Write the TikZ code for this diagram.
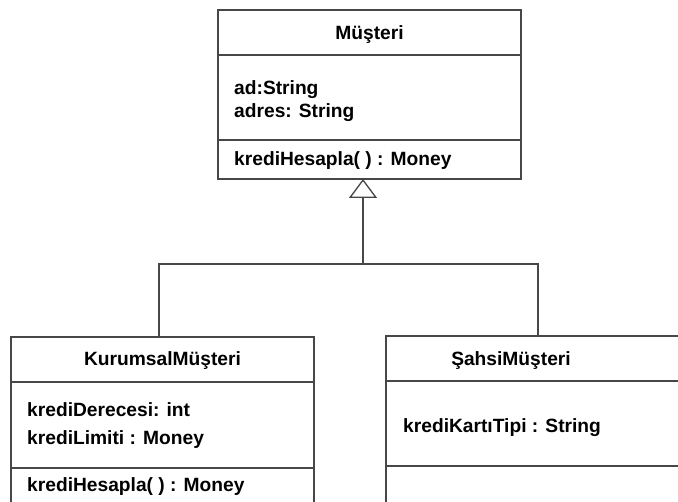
\documentclass[tikz,border=0pt]{standalone}
\usepackage{fontspec}
\setmainfont{Liberation Sans}
\usetikzlibrary{arrows.meta}
\definecolor{linegray}{HTML}{474747}
\begin{document}
\begin{tikzpicture}[x=1pt,y=-1pt,
  umlline/.style={draw=linegray,line width=1.3pt},
  classbox/.style={umlline,rectangle,anchor=north west,inner sep=0,outer sep=0},
  lbl/.style={font=\fontsize{19.2}{22}\selectfont\bfseries,inner sep=0,text=black},
  title/.style={lbl,anchor=base},
  attr/.style={lbl,anchor=base west},
]
\useasboundingbox (0,0) rectangle (678,502);
\fill[white] (0,0) rectangle (678,502);
\clip (0,0) rectangle (678,502);

% Base class: Müşteri
\node[classbox,minimum width=303pt,minimum height=169pt] (mus) at (218,10) {};
\draw[umlline] ([yshift=-45pt]mus.north west) -- ([yshift=-45pt]mus.north east);
\draw[umlline] ([yshift=-130pt]mus.north west) -- ([yshift=-130pt]mus.north east);
\node[title] (musname) at (369.5,39.5) {Müşteri};
\node[attr] (musad) at (234,95) {ad:String};
\node[attr] (musadres) at (234,118) {adres: String};
\node[attr] (musop) at (234,166) {krediHesapla( ) : Money};

% Subclass: KurumsalMüşteri
\node[classbox,minimum width=303pt,minimum height=200pt] (kur) at (11,337) {};
\draw[umlline] ([yshift=-45pt]kur.north west) -- ([yshift=-45pt]kur.north east);
\draw[umlline] ([yshift=-131pt]kur.north west) -- ([yshift=-131pt]kur.north east);
\node[title] (kurname) at (162.5,366) {KurumsalMüşteri};
\node[attr] (kurder) at (27,417) {krediDerecesi: int};
\node[attr] (kurlim) at (27,445) {krediLimiti : Money};
\node[attr] (kurop) at (27,492) {krediHesapla( ) : Money};

% Subclass: ŞahsiMüşteri
\node[classbox,minimum width=320pt,minimum height=200pt] (sah) at (386,336) {};
\draw[umlline] ([yshift=-45pt]sah.north west) -- ([yshift=-45pt]sah.north east);
\draw[umlline] ([yshift=-130pt]sah.north west) -- ([yshift=-130pt]sah.north east);
\node[title] (sahname) at (511,366) {ŞahsiMüşteri};
\node[attr] (sahkart) at (403,433) {krediKartıTipi : String};

% Generalization connectors
\coordinate (join) at (363,264);
\coordinate (kurtop) at (159,337);
\coordinate (sahtop) at (538,336);
\draw[umlline] (kurtop) |- (join) -| (sahtop);
\draw[umlline,-{Triangle[open,length=19pt,width=28pt]}] (join) -- (join |- mus.south);
\end{tikzpicture}
\end{document}
